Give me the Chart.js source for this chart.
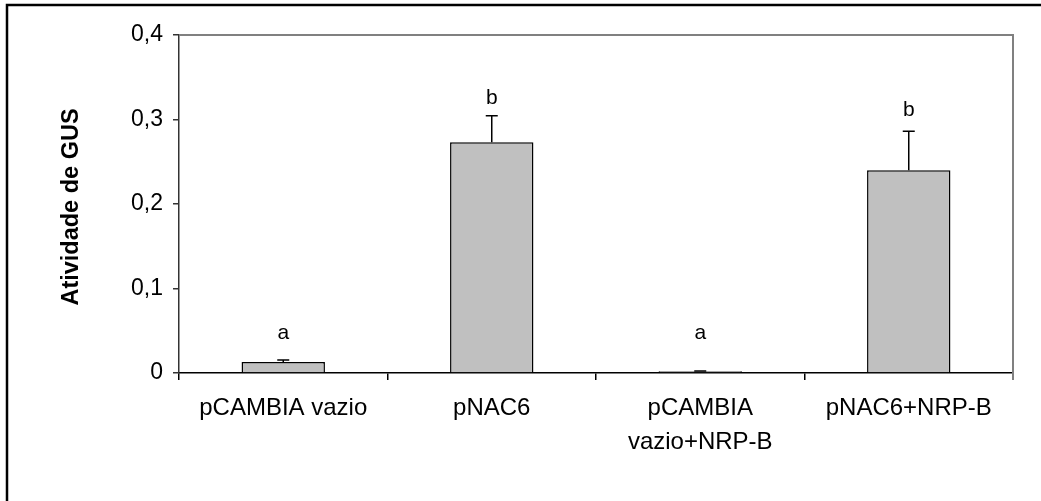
<!DOCTYPE html>
<html>
<head>
<meta charset="utf-8">
<script src="https://cdn.jsdelivr.net/npm/chart.js@4/dist/chart.umd.min.js"></script>
<style>
  body { margin: 0; background: #fff; }
  canvas { display: block; }
</style>
</head>
<body>
<canvas id="gusChart" width="1041" height="501"></canvas>
<script>
const categories = ["pCAMBIA vazio", "pNAC6", ["pCAMBIA", "vazio+NRP-B"], "pNAC6+NRP-B"];
const gusActivity = [0.013, 0.273, 0.002, 0.240];
const gusError = [0.0025, 0.0315, 0.0005, 0.046];
const groupLetters = ["a", "b", "a", "b"];
const letterHeights = [0.047, 0.325, 0.047, 0.311];
const yTickLabels = ["0", "0,1", "0,2", "0,3", "0,4"];

const fontFamily = "'Liberation Sans', Arial, sans-serif";

// error bars, letters, plot border and the outer frame
const extras = {
    id: "extras",
    afterDatasetsDraw(chart) {
        const ctx = chart.ctx;
        const x = chart.scales.x;
        const y = chart.scales.y;
        ctx.save();
        ctx.strokeStyle = "#000";
        ctx.lineWidth = 1.5;
        gusActivity.forEach((v, i) => {
            const cx = x.getPixelForValue(i);
            const yTop = y.getPixelForValue(v);
            const yErr = y.getPixelForValue(v + gusError[i]);
            ctx.beginPath();
            ctx.moveTo(cx, yTop);
            ctx.lineTo(cx, yErr);
            ctx.moveTo(cx - 6, yErr);
            ctx.lineTo(cx + 6, yErr);
            ctx.stroke();

            ctx.fillStyle = "#000";
            ctx.font = "21px " + fontFamily;
            ctx.textAlign = "center";
            ctx.textBaseline = "middle";
            ctx.fillText(groupLetters[i], cx, y.getPixelForValue(letterHeights[i]));
        });
        ctx.restore();
    },
    afterDraw(chart) {
        const ctx = chart.ctx;
        const area = chart.chartArea;
        ctx.save();
        // top and right edge of the plot area
        ctx.strokeStyle = "#808080";
        ctx.lineWidth = 2;
        ctx.beginPath();
        ctx.moveTo(area.left, area.top);
        ctx.lineTo(area.right, area.top);
        ctx.lineTo(area.right, area.bottom + 7);
        ctx.stroke();

        // outer frame (left and top only)
        ctx.strokeStyle = "#000";
        ctx.lineWidth = 2.5;
        ctx.beginPath();
        ctx.moveTo(7, 501);
        ctx.lineTo(7, 5);
        ctx.lineTo(1041, 5);
        ctx.stroke();

        // y axis title
        ctx.fillStyle = "#000";
        ctx.font = "bold 23.5px " + fontFamily;
        ctx.textAlign = "center";
        ctx.textBaseline = "middle";
        ctx.translate(72, (area.top + area.bottom) / 2 + 3);
        ctx.rotate(-Math.PI / 2);
        ctx.fillText("Atividade de GUS", 0, 0);
        ctx.restore();
    }
};

new Chart(document.getElementById("gusChart"), {
    type: "bar",
    data: {
        labels: categories,
        datasets: [{
            data: gusActivity,
            backgroundColor: "#c0c0c0",
            borderColor: "#000",
            borderWidth: 1.5,
            barPercentage: 0.4,
            categoryPercentage: 1
        }]
    },
    options: {
        responsive: false,
        animation: false,
        layout: { padding: { top: 35, right: 28, left: 0, bottom: 0 } },
        plugins: {
            legend: { display: false },
            tooltip: { enabled: false }
        },
        scales: {
            x: {
                afterFit: s => { s.height = 128; },
                grid: {
                    offset: true,
                    drawOnChartArea: false,
                    drawTicks: true,
                    tickLength: 7,
                    color: "#000",
                    lineWidth: 1.5
                },
                border: { color: "#000", width: 1.5 },
                ticks: {
                    color: "#000",
                    padding: 12,
                    maxRotation: 0,
                    autoSkip: false,
                    font: { family: fontFamily, size: 24, lineHeight: 1.4 }
                }
            },
            y: {
                min: 0,
                max: 0.4,
                afterFit: s => { s.width = 179; },
                grid: {
                    drawOnChartArea: false,
                    drawTicks: true,
                    tickLength: 6,
                    color: "#333",
                    lineWidth: 1.5
                },
                border: { color: "#333", width: 1.5 },
                ticks: {
                    stepSize: 0.1,
                    color: "#000",
                    padding: 10,
                    font: { family: fontFamily, size: 23 },
                    callback: (v, i) => yTickLabels[i]
                }
            }
        }
    },
    plugins: [extras]
});
</script>
</body>
</html>
